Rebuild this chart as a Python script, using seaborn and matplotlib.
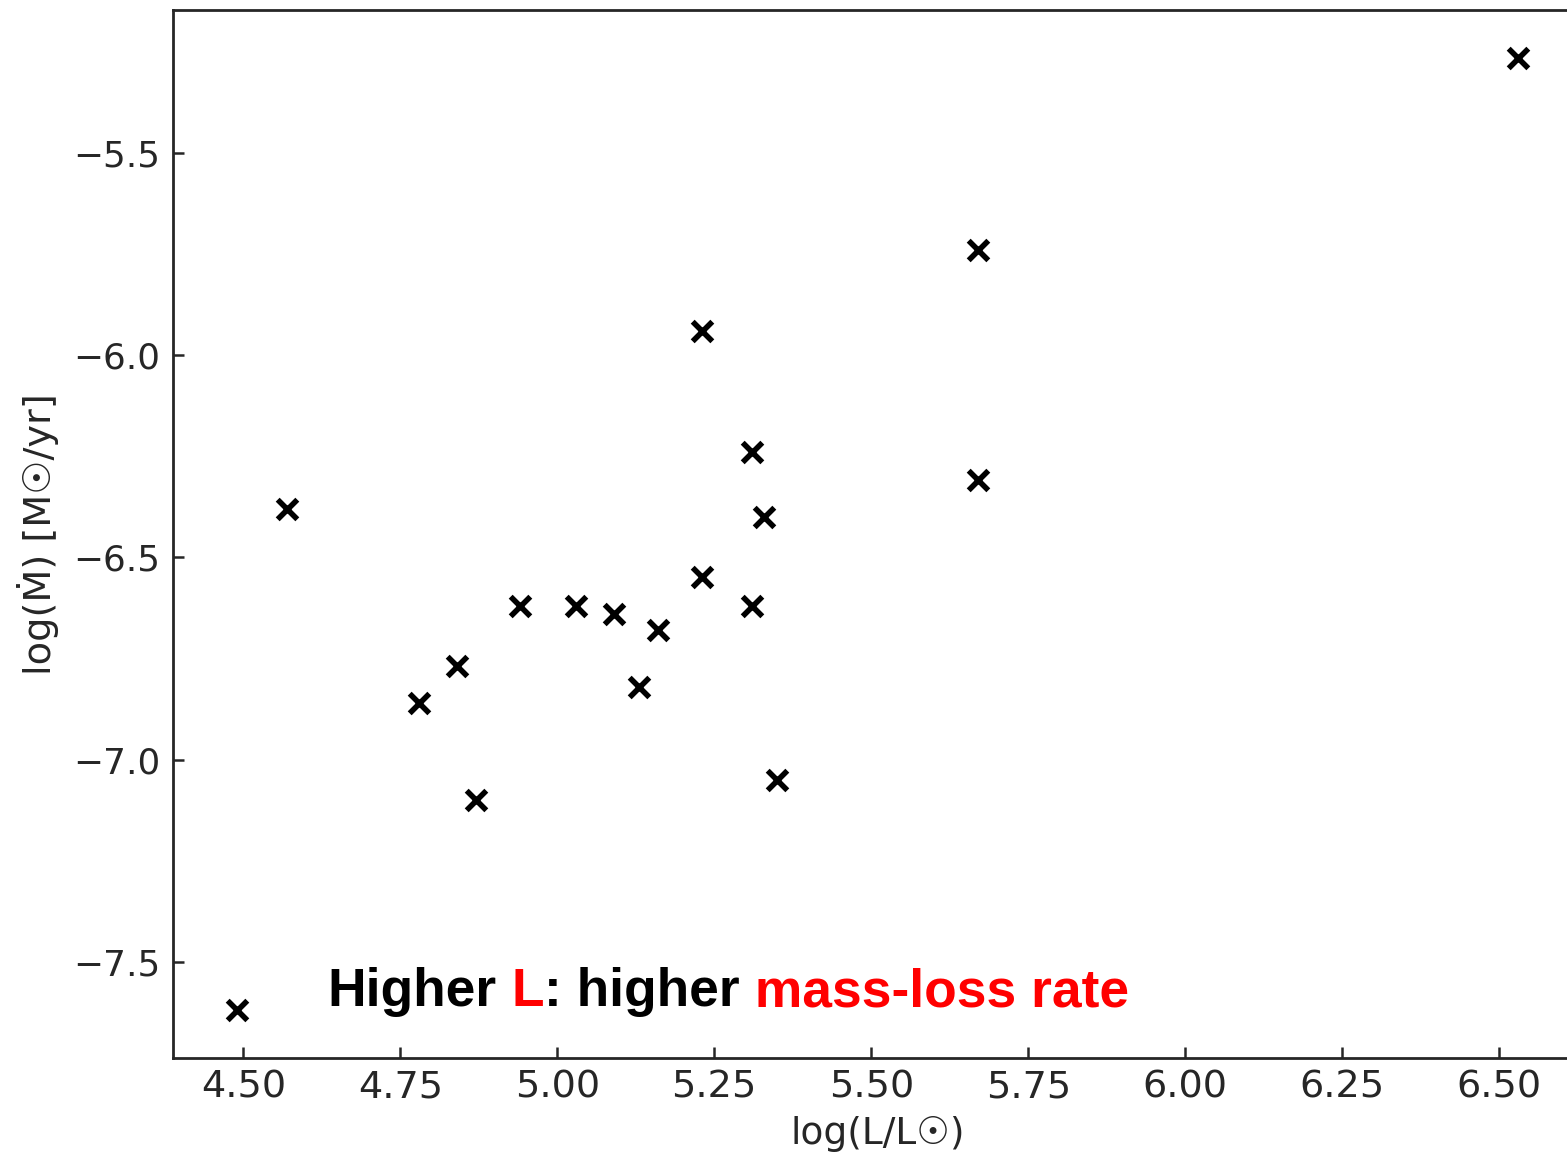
import matplotlib
matplotlib.use("Agg")
import matplotlib.pyplot as plt
import seaborn as sns
import pandas as pd

log_L = [4.49, 4.57, 4.78, 4.84, 4.87, 4.94, 5.03, 5.09, 5.13, 5.16,
         5.23, 5.23, 5.31, 5.31, 5.33, 5.35, 5.67, 5.67, 6.53]
log_Mdot = [-7.62, -6.38, -6.86, -6.77, -7.10, -6.62, -6.62, -6.64, -6.82, -6.68,
            -5.94, -6.55, -6.24, -6.62, -6.40, -7.05, -5.74, -6.31, -5.265]

x_label = "log(L/L☉)"
y_label = "log(Ṁ) [M☉/yr]"
x_ticks = [4.50, 4.75, 5.00, 5.25, 5.50, 5.75, 6.00, 6.25, 6.50]
y_ticks = [-7.5, -7.0, -6.5, -6.0, -5.5]
note_parts = ["Higher", " L", ": higher", " mass-loss rate"]
note_colors = ["black", "red", "black", "red"]

df = pd.DataFrame({"logL": log_L, "logMdot": log_Mdot})

sns.set_style("ticks")
plt.rcParams["font.family"] = ["DejaVu Sans"]
plt.rcParams["axes.edgecolor"] = "#262626"

fig = plt.figure(figsize=(15.67, 11.57), dpi=100)
ax = fig.add_axes([173 / 1567, 99 / 1157, (1582 - 173) / 1567, (1058 - 10) / 1157])

sns.scatterplot(data=df, x="logL", y="logMdot", marker="x", s=200,
                color="black", linewidth=4.0, ax=ax, legend=False)

xr = max(log_L) - min(log_L)
yr = max(log_Mdot) - min(log_Mdot)
ax.set_xlim(min(log_L) - 0.05 * xr, max(log_L) + 0.05 * xr)
ax.set_ylim(min(log_Mdot) - 0.05 * yr, max(log_Mdot) + 0.05 * yr)
ax.set_xticks(x_ticks)
ax.set_yticks(y_ticks)
ax.set_xticklabels([f"{t:.2f}" for t in x_ticks])
ax.set_yticklabels([f"{t:.1f}".replace("-", "\u2212") for t in y_ticks])

for s in ax.spines.values():
    s.set_linewidth(2.0)
    s.set_color("#262626")

ax.tick_params(axis="both", direction="in", length=8, width=1.8,
               colors="#262626")
ax.tick_params(axis="x", pad=8, labelsize=27.5)
ax.tick_params(axis="y", pad=9, labelsize=25.8)
ax.set_xlabel(x_label, fontsize=27, color="#262626", labelpad=8)
ax.set_ylabel(y_label, fontsize=27.5, color="#262626", labelpad=10)

# multi-colored annotation
fig.canvas.draw()
renderer = fig.canvas.get_renderer()
x0, y0 = 4.634, -7.61
disp_x, disp_y = ax.transData.transform((x0, y0))
inv = ax.transData.inverted()
for part, col in zip(note_parts, note_colors):
    dx, _ = inv.transform((disp_x, disp_y))
    t = ax.text(dx, y0, part, color=col, fontsize=38.4, fontweight="bold",
                family="Liberation Sans", va="baseline", ha="left")
    bb = t.get_window_extent(renderer=renderer)
    disp_x = bb.x1

fig.savefig("out.png", dpi=100)
